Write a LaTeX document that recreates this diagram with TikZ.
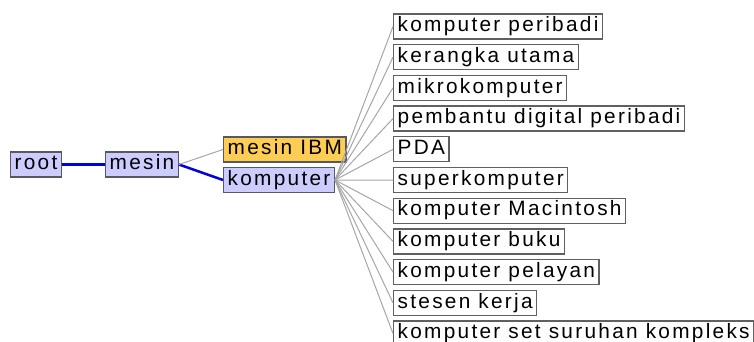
\documentclass[tikz,border=0pt]{standalone}
\usepackage{fontspec}
\setmainfont{Liberation Sans}[LetterSpace=11]
\definecolor{NodeBlue}{rgb}{0.8,0.8,1.0}
\definecolor{NodeGold}{rgb}{1.0,0.8,0.33}
\definecolor{EdgeBlue}{rgb}{0.0,0.0,0.9}
\definecolor{BoxLine}{rgb}{0.35,0.35,0.35}

\begin{document}
\begin{tikzpicture}[x=1pt,y=-1pt,
  term/.style={draw=BoxLine,line width=1.3pt,anchor=west,minimum height=25pt,
    inner xsep=4pt,inner ysep=0pt,text height=15pt,text depth=4.5pt,font=\fontsize{20.8pt}{24pt}\selectfont},
  picked/.style={term,fill=NodeBlue},
  leaf/.style={term,fill=white,draw=gray!75!black},
  path/.style={EdgeBlue,line width=2.5pt},
  link/.style={gray!70,line width=1pt}]
\useasboundingbox (0,0) rectangle (754,342);
\def\pitch{30.7}
\node[picked] (root) at (10,164.5) {root};
\node[picked] (mesin) at (105,164.5) {mesin};
\node[term,fill=NodeGold] (ibm) at (223,149.5) {mesin IBM};
\node[picked] (komputer) at (223,180) {komputer};

\node[leaf] (peribadi) at (393,26.5) {komputer peribadi};
\node[leaf] (kerangka) at (393,26.5+\pitch) {kerangka utama};
\node[leaf] (mikro) at (393,26.5+2*\pitch) {mikrokomputer};
\node[leaf] (pembantu) at (393,26.5+3*\pitch) {pembantu digital peribadi};
\node[leaf] (pda) at (393,26.5+4*\pitch) {PDA};
\node[leaf] (super) at (393,26.5+5*\pitch) {superkomputer};
\node[leaf] (mac) at (393,26.5+6*\pitch) {komputer Macintosh};
\node[leaf] (buku) at (393,26.5+7*\pitch) {komputer buku};
\node[leaf] (pelayan) at (393,26.5+8*\pitch) {komputer pelayan};
\node[leaf] (stesen) at (393,26.5+9*\pitch) {stesen kerja};
\node[leaf] (cisc) at (393,26.5+10*\pitch) {komputer set suruhan kompleks};

\draw[path] (root) -- (mesin);
\draw[path] (mesin.east) -- (komputer.west);
\draw[link] (mesin.east) -- (ibm.west);

\draw[link] (komputer.east) -- (peribadi.west);
\draw[link] (komputer.east) -- (kerangka.west);
\draw[link] (komputer.east) -- (mikro.west);
\draw[link] (komputer.east) -- (pembantu.west);
\draw[link] (komputer.east) -- (pda.west);
\draw[link] (komputer.east) -- (super.west);
\draw[link] (komputer.east) -- (mac.west);
\draw[link] (komputer.east) -- (buku.west);
\draw[link] (komputer.east) -- (pelayan.west);
\draw[link] (komputer.east) -- (stesen.west);
\draw[link] (komputer.east) -- (cisc.west);
\end{tikzpicture}
\end{document}
